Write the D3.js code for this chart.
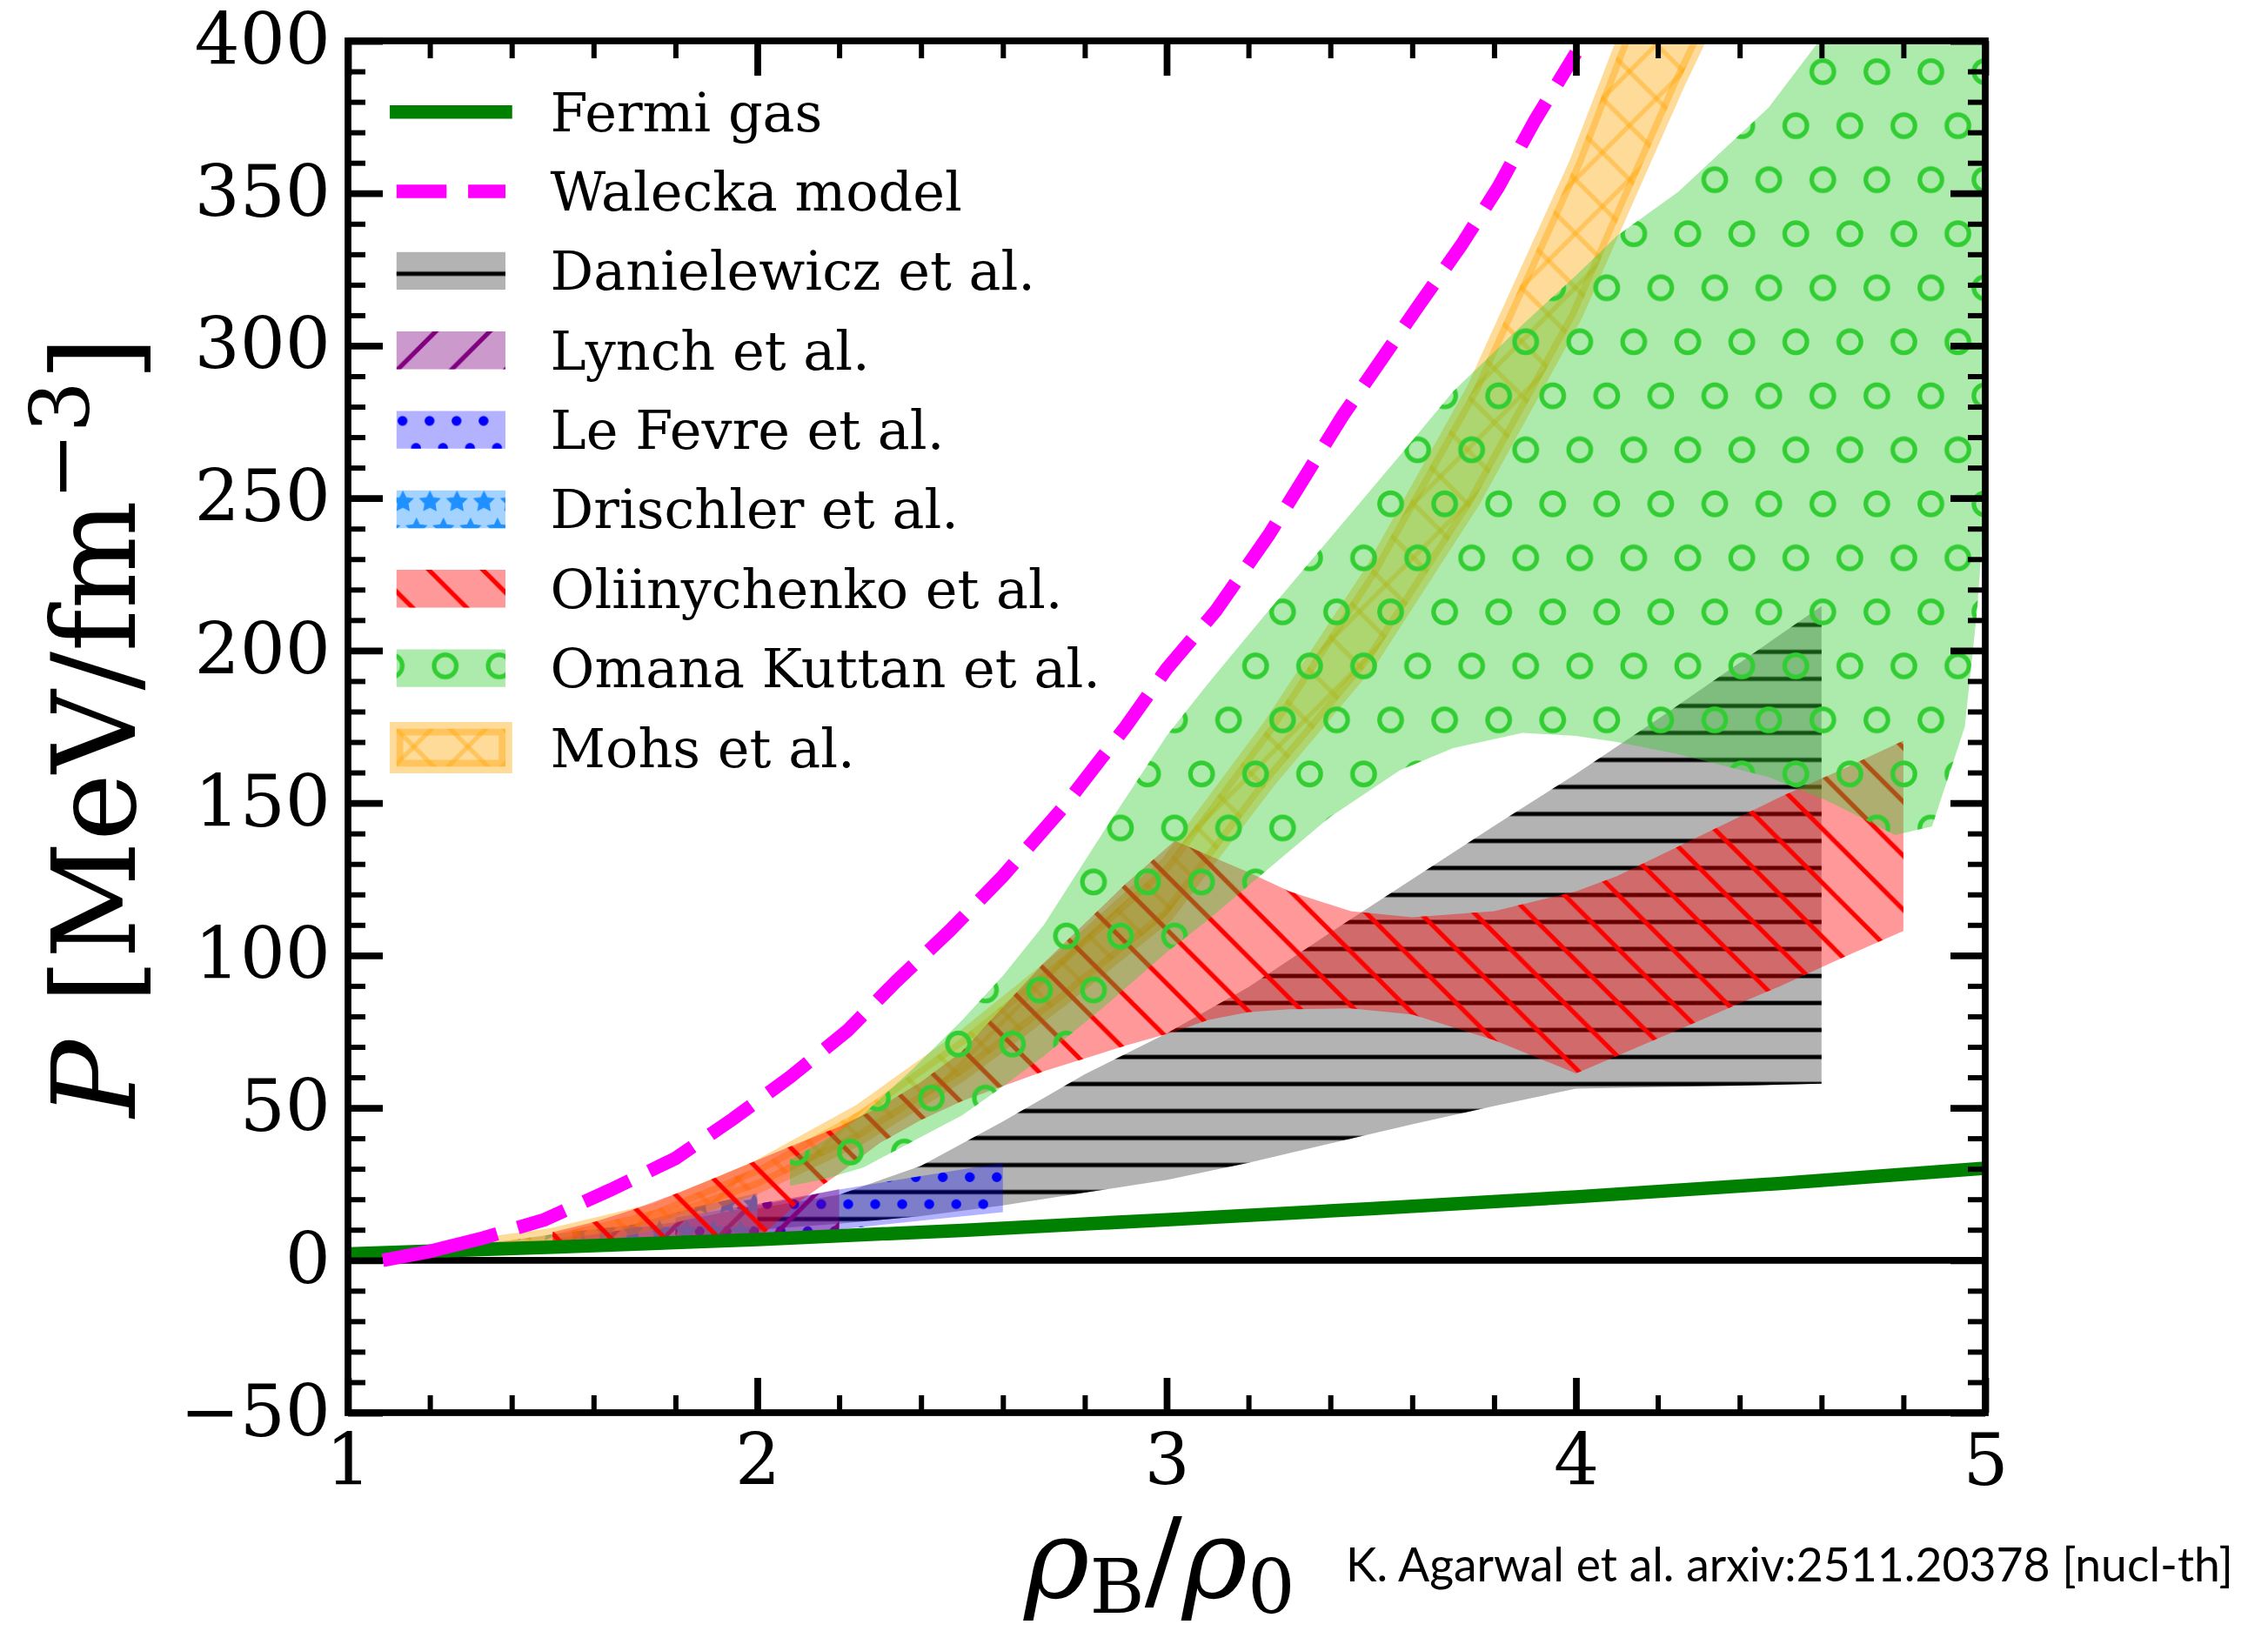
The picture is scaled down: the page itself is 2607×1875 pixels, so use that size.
<!DOCTYPE html>
<html>
<head>
<meta charset="utf-8">
<script src="https://cdn.jsdelivr.net/npm/d3@7"></script>
<style>
  html, body { margin: 0; padding: 0; background: #ffffff; }
  svg { display: block; }
</style>
</head>
<body>
<svg id="chart" width="2607" height="1875"></svg>
<script>
// ---------------- data ----------------
const xMajorTicks = [1, 2, 3, 4, 5];
const yMajorTicks = [-50, 0, 50, 100, 150, 200, 250, 300, 350, 400];
const yTickLabels = ["\u221250", "0", "50", "100", "150", "200", "250", "300", "350", "400"];

// P(rho) curves: [rho_B/rho_0, P]
const fermiGas = [[1.0, 2.1], [1.5, 4.3], [2.0, 6.8], [2.5, 9.8], [3.0, 13.3],
                  [3.5, 16.9], [4.0, 20.8], [4.5, 25.2], [5.0, 30.2]];
const walecka = [[1.085, 0], [1.2, 2.9], [1.33, 7.3], [1.48, 13.3], [1.64, 23.0], [1.8, 33.4],
                 [1.94, 46.3], [2.08, 60.1], [2.22, 75.3], [2.34, 91.6], [2.47, 108.1],
                 [2.6, 126], [2.75, 149], [2.9, 175], [3.0, 194], [3.12, 213], [3.25, 238],
                 [3.43, 277], [3.62, 314], [3.72, 333], [3.81, 352], [3.9, 374], [4.0, 396]];

// bands: [rho_B/rho_0, lower P, upper P]
const danielewicz = [[2.0, 10, 17], [2.2, 12, 21.5], [2.4, 14.5, 31], [2.6, 18, 45.5],
                     [2.8, 22.2, 61], [3.0, 26.3, 74.4], [3.2, 32, 89.6], [3.4, 38.3, 107.5],
                     [3.6, 44.6, 125], [3.8, 50.6, 142.5], [4.0, 56.3, 159.5], [4.2, 56.8, 177.5],
                     [4.4, 57.3, 196], [4.6, 57.9, 214.6]];
const lynch = [[1.5, 3.8, 7.0], [1.6, 4.5, 8.5], [1.8, 6.0, 12.5], [2.0, 8.0, 18.0],
               [2.1, 9.0, 20.5], [2.2, 10.1, 23.3]];
const leFevre = [[1.8, 4.5, 14.0], [2.0, 7.2, 18.5], [2.2, 10.1, 23.2], [2.4, 13.0, 27.6],
                 [2.6, 15.8, 32.0]];
const drischler = [[1.0, 1.9, 2.8], [1.2, 2.6, 4.3], [1.4, 3.5, 6.6], [1.5, 4.0, 8.5],
                   [1.7, 5.2, 11.8], [1.85, 6.5, 17.5], [2.0, 8.5, 22.0]];
const oliinychenko = [[1.5, 3.6, 9.2], [1.6, 4.3, 12.5], [1.7, 5.2, 16.8], [1.8, 6.2, 21.8],
                      [1.9, 7.3, 27.2], [2.02, 9.2, 34.0], [2.1, 19.0, 38.4], [2.2, 28.5, 43.8],
                      [2.3, 38.5, 50.3], [2.4, 46.0, 58.5], [2.5, 52.2, 68.5], [2.7, 62.0, 97.5],
                      [2.9, 70.4, 123.5], [3.02, 75.0, 137.6], [3.1, 78.8, 133.0], [3.2, 81.4, 127.3],
                      [3.3, 82.3, 121.0], [3.45, 82.6, 114.5], [3.6, 80.6, 112.5], [3.8, 72.2, 114.5],
                      [4.0, 61.3, 121.0], [4.1, 67.0, 126.0], [4.3, 78.5, 139.0], [4.5, 90.0, 152.0],
                      [4.65, 99.2, 161.0], [4.8, 108.0, 170.4]];
const omanaKuttan = [[2.08, 24.4, 33], [2.16, 26.5, 39], [2.26, 30.5, 48], [2.38, 39, 62.8],
                     [2.5, 47.5, 78.7], [2.6, 57, 93.3], [2.7, 67, 110], [2.85, 83.5, 141.5],
                     [3.0, 101, 172], [3.1, 111.5, 189], [3.23, 126.3, 210], [3.4, 145.5, 237],
                     [3.57, 160.7, 264], [3.7, 168, 285], [3.87, 173, 307], [4.0, 172, 323],
                     [4.1, 170, 336], [4.25, 166, 350.5], [4.47, 158.5, 378], [4.6, 151.5, 401],
                     [4.64, 149, 410], [4.78, 139.5, 430], [4.87, 142.3, 440], [4.95, 175, 450],
                     [4.98, 213, 455], [5.0, 250, 460]];
const mohs = [[1.25, 2.8, 3.8], [1.5, 5.8, 8.4], [1.75, 12, 16.5], [2.0, 24, 30.5],
              [2.25, 40, 49], [2.5, 61, 73], [2.75, 86, 100], [3.0, 113, 130],
              [3.25, 157, 175], [3.5, 197, 226], [3.75, 249, 286], [4.0, 310, 360],
              [4.25, 386, 447], [4.4, 428, 500]];

const legendLabels = ["Fermi gas", "Walecka model", "Danielewicz et al.", "Lynch et al.",
                      "Le Fevre et al.", "Drischler et al.", "Oliinychenko et al.",
                      "Omana Kuttan et al.", "Mohs et al."];

// ---------------- layout ----------------
const W = 2607, H = 1875;
const box = { left: 400, right: 2282, top: 47, bottom: 1624 };
const x = d3.scaleLinear().domain([1, 5]).range([box.left, box.right]);
const y = d3.scaleLinear().domain([-50, 400]).range([box.bottom, box.top]);

const svg = d3.select("#chart").attr("viewBox", `0 0 ${W} ${H}`);
svg.append("rect").attr("width", W).attr("height", H).attr("fill", "#ffffff");
const defs = svg.append("defs");

defs.append("clipPath").attr("id", "plotClip")
  .append("rect").attr("x", box.left).attr("y", box.top)
  .attr("width", box.right - box.left).attr("height", box.bottom - box.top);

// ---------------- hatch patterns (device-space tiling) ----------------
const HW = 5.2;        // hatch stroke width
const S = 62.1;        // coarse hatch period
const s2 = S / 2;      // fine hatch period

function pattern(id, w, h, px, py) {
  return defs.append("pattern").attr("id", id)
    .attr("patternUnits", "userSpaceOnUse")
    .attr("width", w).attr("height", h).attr("x", px).attr("y", py);
}
function diag(p, color, dir, opacity) {
  [-S, 0, S].forEach(c => {
    const l = p.append("line").attr("stroke", color).attr("stroke-width", HW)
      .attr("stroke-opacity", opacity);
    if (dir === "back") l.attr("x1", -10).attr("y1", -10 + c).attr("x2", S + 10).attr("y2", S + 10 + c);
    else l.attr("x1", -10).attr("y1", S + 10 + c).attr("x2", S + 10).attr("y2", -10 + c);
  });
}

// horizontal lines
const pH = pattern("hatchH", 200, s2, 0, 4.2 - s2 / 2);
pH.append("line").attr("x1", -5).attr("x2", 205).attr("y1", s2 / 2).attr("y2", s2 / 2)
  .attr("stroke", "#000").attr("stroke-width", 4.8);

// forward diagonal (purple)
diag(pattern("hatchFwd", S, S, 0, 12.5), "purple", "fwd", 1);
// backward diagonal (red)
diag(pattern("hatchBack", S, S, 0, 38), "red", "back", 1);
// crossed diagonals (orange, translucent)
const pX = pattern("hatchCross", S, S, 10, 20);
diag(pX, "orange", "fwd", 0.4);
diag(pX, "orange", "back", 0.4);

// open circles (lime green), staggered rows
const pO = pattern("hatchCircles", S, 2 * S, 2095.3 - 15.5, 82.4 - s2);
[[15.5, s2], [15.5 + s2, s2 + S]].forEach(([cx, cy]) => {
  [-S, 0, S].forEach(ox => pO.append("circle").attr("cx", cx + ox).attr("cy", cy).attr("r", 12.8)
    .attr("fill", "none").attr("stroke", "limegreen").attr("stroke-width", HW));
});

// small dots (blue), staggered rows
const pD = pattern("hatchDots", s2, S, 975 - 7.76, 1384.3 - 15.5);
[[7.76, 15.5], [7.76 + s2 / 2, 15.5 + s2]].forEach(([cx, cy]) => {
  [-s2, 0, s2].forEach(ox => pD.append("circle").attr("cx", cx + ox).attr("cy", cy).attr("r", 0.1 * s2)
    .attr("fill", "blue").attr("stroke", "blue").attr("stroke-width", HW));
});

// stars (dodger blue), staggered rows
function starPath(cx, cy, R) {
  const pts = [];
  for (let i = 0; i < 10; i++) {
    const r = i % 2 === 0 ? R : R * 0.5;
    const a = -Math.PI / 2 + i * Math.PI / 5;
    pts.push([cx + r * Math.cos(a), cy + r * Math.sin(a)]);
  }
  return "M" + pts.map(p => p.join(",")).join("L") + "Z";
}
const pS = pattern("hatchStars", s2, S, 463.2 - 7.76, 577 - 15.5);
[[7.76, 15.5], [7.76 + s2 / 2, 15.5 + s2]].forEach(([cx, cy]) => {
  [-s2, 0, s2].forEach(ox => [-S, 0, S].forEach(oy =>
    pS.append("path").attr("d", starPath(cx + ox, cy + oy, s2 / 3))
      .attr("fill", "dodgerblue").attr("stroke", "dodgerblue").attr("stroke-width", HW * 0.5)));
});

// ---------------- band styles ----------------
const bandStyles = {
  danielewicz:  { data: danielewicz,  fill: "gray",       alpha: 0.6, hatch: "hatchH" },
  leFevre:      { data: leFevre,      fill: "blue",       alpha: 0.3, hatch: "hatchDots" },
  lynch:        { data: lynch,        fill: "purple",     alpha: 0.4, hatch: "hatchFwd" },
  drischler:    { data: drischler,    fill: "dodgerblue", alpha: 0.4, hatch: "hatchStars" },
  oliinychenko: { data: oliinychenko, fill: "red",        alpha: 0.4, hatch: "hatchBack" },
  mohs:         { data: mohs,         fill: "orange",     alpha: 0.4, hatch: "hatchCross", edge: true },
  omanaKuttan:  { data: omanaKuttan,  fill: "limegreen",  alpha: 0.4, hatch: "hatchCircles" }
};
const drawOrder = ["danielewicz", "leFevre", "lynch", "drischler", "mohs", "oliinychenko", "omanaKuttan"];

const area = d3.area().x(d => x(d[0])).y0(d => y(d[1])).y1(d => y(d[2]));
const line = d3.line().x(d => x(d[0])).y(d => y(d[1]));

const plotG = svg.append("g").attr("clip-path", "url(#plotClip)");

function paintShape(sel, st) {
  sel.append("path").attr("d", sel.datum().d)
    .attr("fill", st.fill).attr("fill-opacity", st.alpha).attr("stroke", "none");
  sel.append("path").attr("d", sel.datum().d).attr("fill", `url(#${st.hatch})`);
  if (st.edge) {
    sel.append("path").attr("d", sel.datum().d).attr("fill", "none")
      .attr("stroke", st.fill).attr("stroke-opacity", 0.4).attr("stroke-width", 15.5)
      .attr("stroke-linejoin", "miter");
  }
}

drawOrder.forEach(k => {
  const st = bandStyles[k];
  const g = plotG.append("g").datum({ d: area(st.data) });
  paintShape(g, st);
});

// zero line
plotG.append("line").attr("x1", box.left).attr("x2", box.right)
  .attr("y1", y(0)).attr("y2", y(0)).attr("stroke", "#000").attr("stroke-width", 7.75);

// curves
plotG.append("path").datum(fermiGas).attr("d", line)
  .attr("fill", "none").attr("stroke", "green").attr("stroke-width", 15.5)
  .attr("stroke-linejoin", "round");

const dashList = ["135"];
for (let i = 0; i < 40; i++) dashList.push("24.8", "57.5");
plotG.append("path").datum(walecka).attr("d", line)
  .attr("fill", "none").attr("stroke", "magenta").attr("stroke-width", 15.5)
  .attr("stroke-dasharray", dashList.join(","));

// ---------------- axes ----------------
const xMinor = d3.range(1, 5.001, 0.2).map(v => +v.toFixed(2)).filter(v => !xMajorTicks.includes(v));
const yMinor = d3.range(-50, 400.001, 10).filter(v => !yMajorTicks.includes(v));

function styleAxis(g, width, fontSize) {
  g.select(".domain").remove();
  g.selectAll(".tick line").attr("stroke", "#000").attr("stroke-width", width);
  g.selectAll(".tick text").attr("font-family", "'DejaVu Serif', serif")
    .attr("font-size", fontSize).attr("fill", "#000");
}

const axes = svg.append("g");
// bottom
axes.append("g").attr("transform", `translate(0,${box.bottom})`)
  .call(d3.axisBottom(x).tickValues(xMajorTicks).tickSize(-40).tickPadding(25).tickFormat(d3.format("d")))
  .call(g => styleAxis(g, 7.75, 82));
axes.append("g").attr("transform", `translate(0,${box.bottom})`)
  .call(d3.axisBottom(x).tickValues(xMinor).tickSize(-20).tickFormat(""))
  .call(g => styleAxis(g, 6, 0));
// top
axes.append("g").attr("transform", `translate(0,${box.top})`)
  .call(d3.axisTop(x).tickValues(xMajorTicks).tickSize(-40).tickFormat(""))
  .call(g => styleAxis(g, 7.75, 0));
axes.append("g").attr("transform", `translate(0,${box.top})`)
  .call(d3.axisTop(x).tickValues(xMinor).tickSize(-20).tickFormat(""))
  .call(g => styleAxis(g, 6, 0));
// left
axes.append("g").attr("transform", `translate(${box.left},0)`)
  .call(d3.axisLeft(y).tickValues(yMajorTicks).tickSize(-40).tickPadding(20)
    .tickFormat((d, i) => yTickLabels[i]))
  .call(g => styleAxis(g, 7.75, 82));
axes.append("g").attr("transform", `translate(${box.left},0)`)
  .call(d3.axisLeft(y).tickValues(yMinor).tickSize(-20).tickFormat(""))
  .call(g => styleAxis(g, 6, 0));
// right
axes.append("g").attr("transform", `translate(${box.right},0)`)
  .call(d3.axisRight(y).tickValues(yMajorTicks).tickSize(-40).tickFormat(""))
  .call(g => styleAxis(g, 7.75, 0));
axes.append("g").attr("transform", `translate(${box.right},0)`)
  .call(d3.axisRight(y).tickValues(yMinor).tickSize(-20).tickFormat(""))
  .call(g => styleAxis(g, 6, 0));

// frame
svg.append("rect").attr("x", box.left).attr("y", box.top)
  .attr("width", box.right - box.left).attr("height", box.bottom - box.top)
  .attr("fill", "none").attr("stroke", "#000").attr("stroke-width", 7.75);

// ---------------- axis labels ----------------
const yl = svg.append("text")
  .attr("transform", `translate(155,${(box.top + box.bottom) / 2}) rotate(-90)`)
  .attr("text-anchor", "middle").attr("font-family", "'DejaVu Serif', serif")
  .attr("font-size", 132).attr("fill", "#000");
yl.append("tspan").attr("font-style", "italic").text("P");
yl.append("tspan").text(" [MeV/fm");
yl.append("tspan").attr("font-size", 93).attr("dy", -53).text("\u22123");
yl.append("tspan").attr("dy", 53).text("]");

const xl = svg.append("text")
  .attr("x", (box.left + box.right) / 2 - 8).attr("y", 1836)
  .attr("text-anchor", "middle").attr("font-family", "'DejaVu Serif', serif")
  .attr("font-size", 128).attr("fill", "#000");
xl.append("tspan").attr("font-style", "italic").text("\u03c1");
xl.append("tspan").attr("font-size", 86).attr("dy", 18).text("B");
xl.append("tspan").attr("dy", -18).text("/");
xl.append("tspan").attr("font-style", "italic").text("\u03c1");
xl.append("tspan").attr("font-size", 86).attr("dy", 18).text("0");

svg.append("text").attr("x", 1547).attr("y", 1818)
  .attr("font-family", "Lato, 'Open Sans', sans-serif").attr("font-size", 53.5).attr("fill", "#000")
  .text("K. Agarwal et al. arxiv:2511.20378 [nucl-th]");

// ---------------- legend ----------------
const leg = svg.append("g");
const rowY = i => 128.7 + 91.35 * i;
const hx0 = 455.8, hx1 = 581.0, hh = 43.4;

leg.append("line").attr("x1", hx0).attr("x2", hx1).attr("y1", rowY(0)).attr("y2", rowY(0))
  .attr("stroke", "green").attr("stroke-width", 15.5).attr("stroke-linecap", "square");
leg.append("line").attr("x1", hx0).attr("x2", hx1).attr("y1", rowY(1)).attr("y2", rowY(1))
  .attr("stroke", "magenta").attr("stroke-width", 15.5).attr("stroke-dasharray", "57.5,24.8");

const legendBands = ["danielewicz", "lynch", "leFevre", "drischler", "oliinychenko", "omanaKuttan", "mohs"];
legendBands.forEach((k, i) => {
  const yc = rowY(i + 2);
  const r = `M${hx0},${yc - hh / 2}H${hx1}V${yc + hh / 2}H${hx0}Z`;
  const g = leg.append("g").datum({ d: r });
  paintShape(g, bandStyles[k]);
});

legendLabels.forEach((t, i) => {
  leg.append("text").attr("x", 632.6).attr("y", rowY(i) + 22)
    .attr("font-family", "'DejaVu Serif', serif").attr("font-size", 62).attr("fill", "#000")
    .text(t);
});
</script>
</body>
</html>
